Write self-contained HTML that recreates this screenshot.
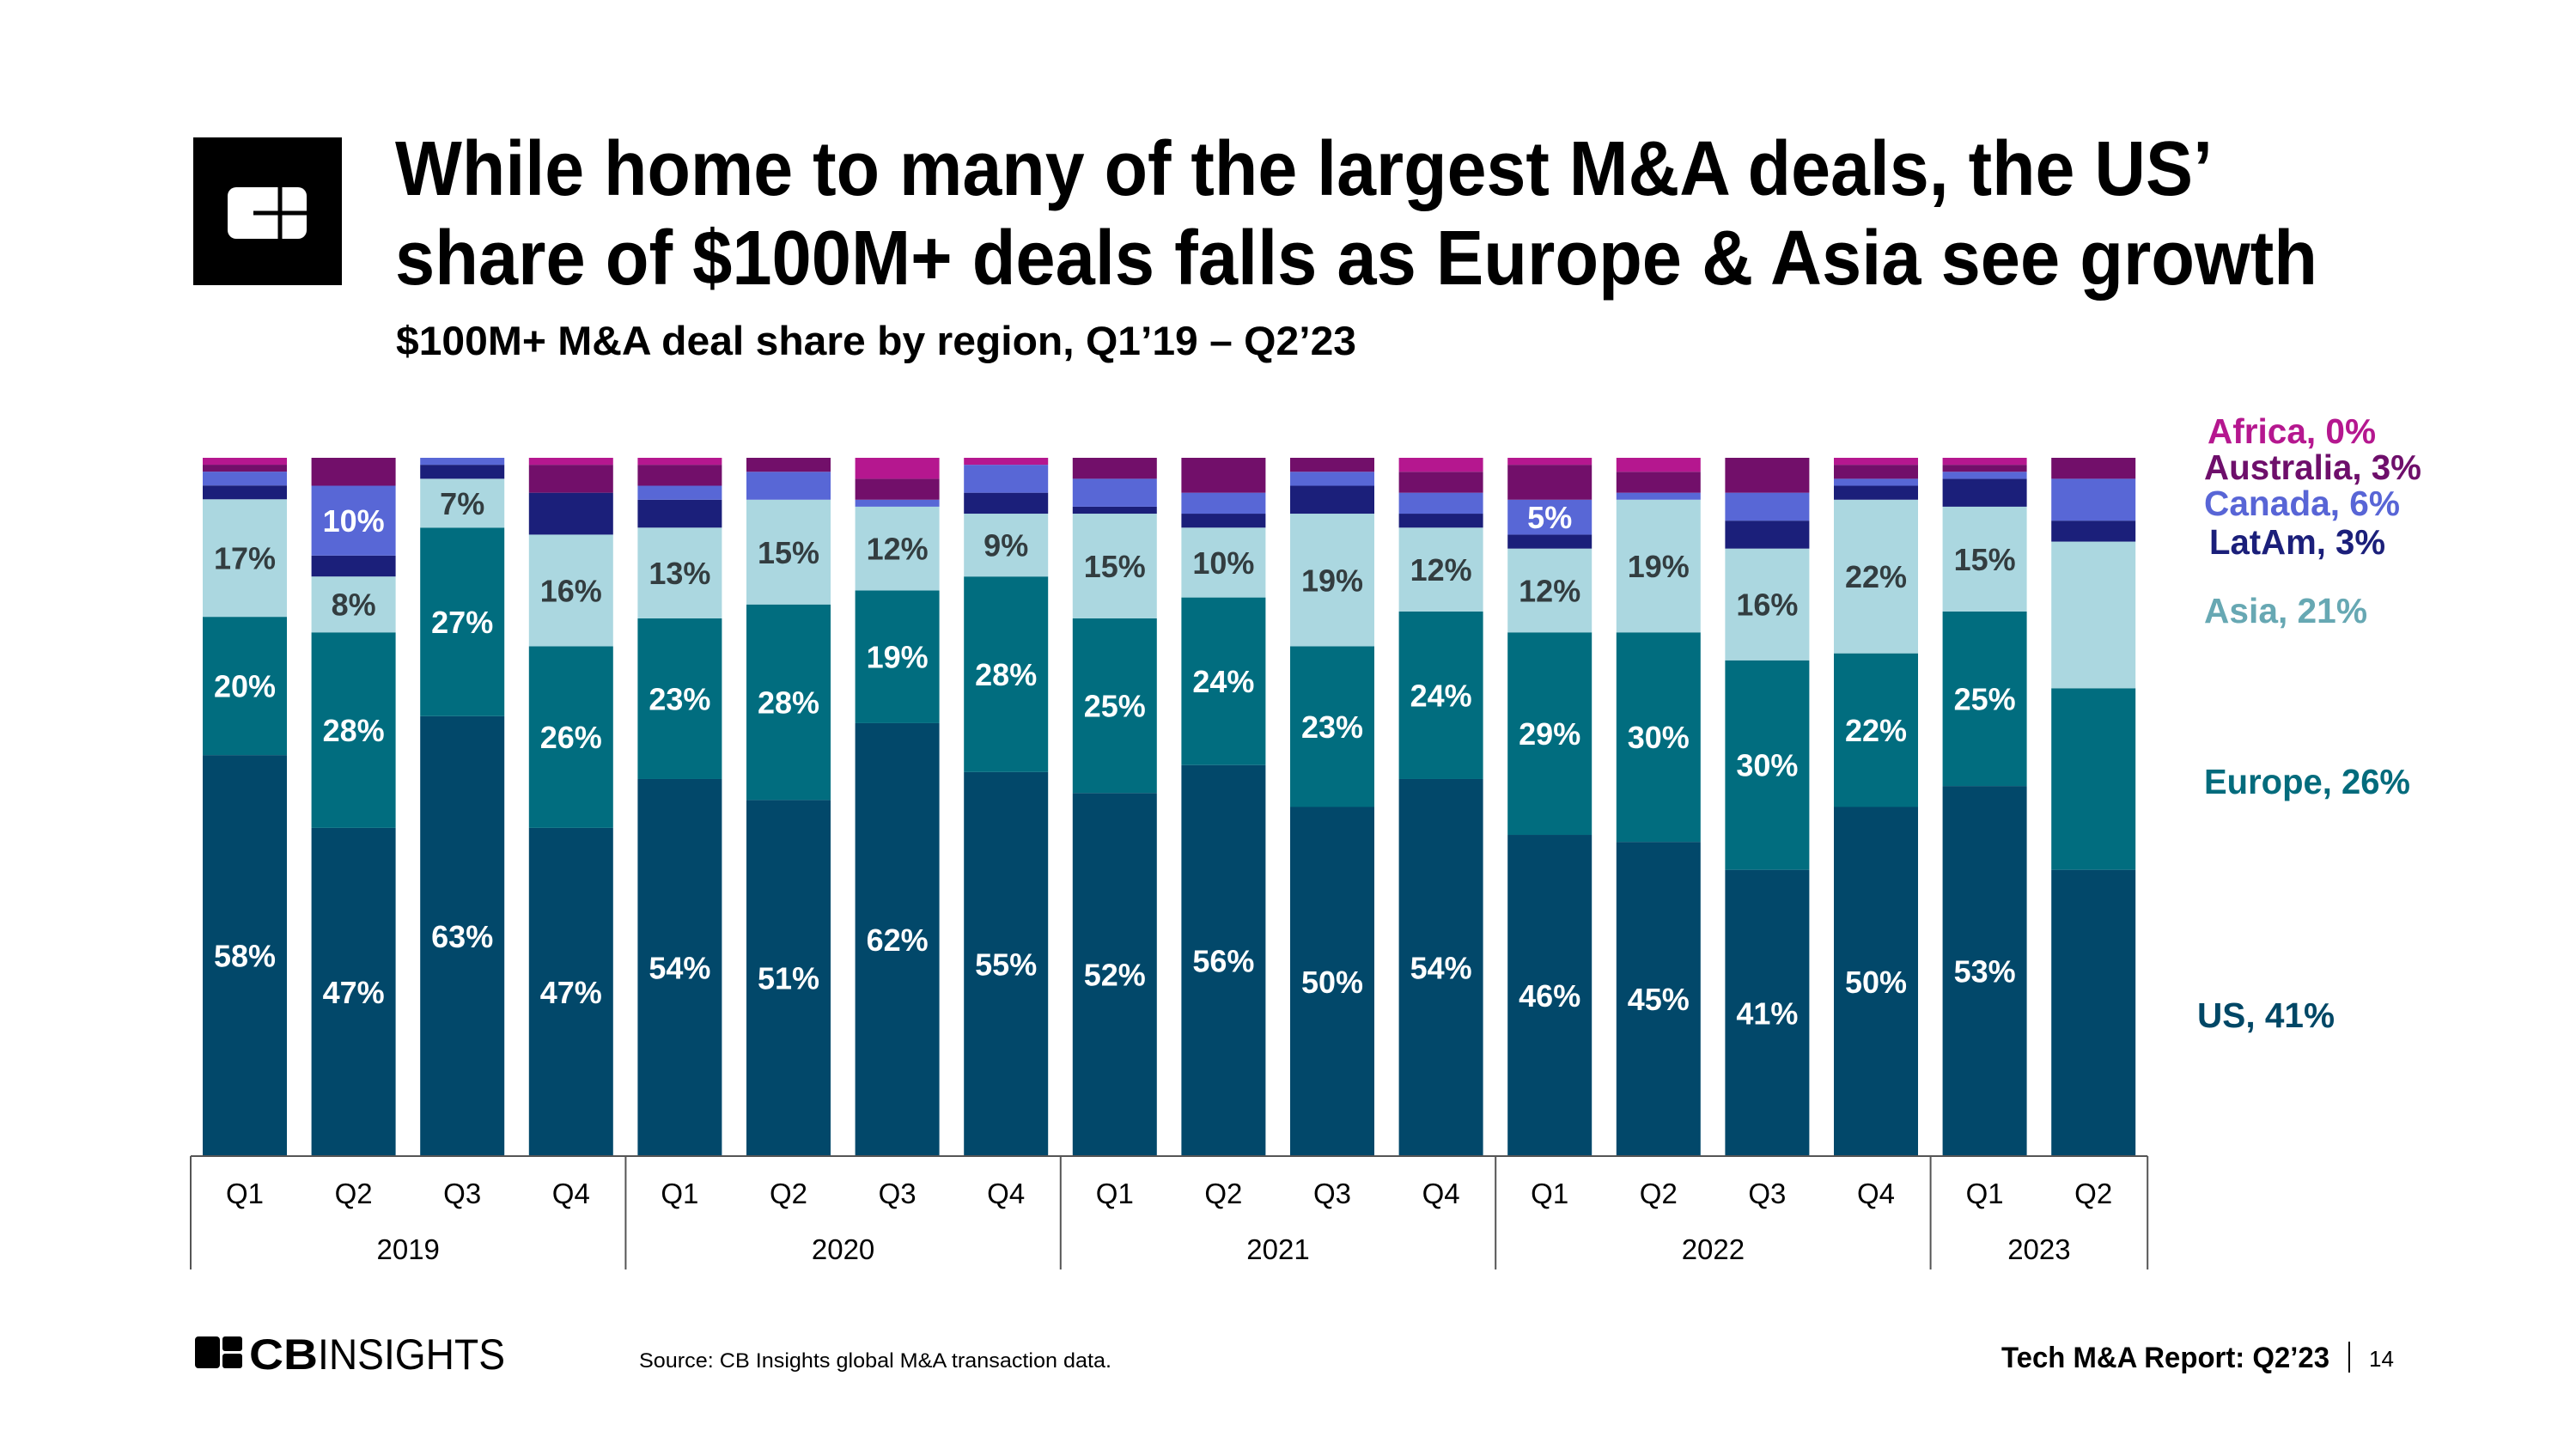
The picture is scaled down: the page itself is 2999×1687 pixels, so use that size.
<!DOCTYPE html>
<html><head><meta charset="utf-8"><style>
html,body{margin:0;padding:0;background:#fff;}
svg{display:block;font-family:"Liberation Sans",sans-serif;}
</style></head><body>
<svg id="chart" width="2999" height="1687" viewBox="0 0 2999 1687">
<g>
<rect x="225" y="160" width="173" height="172" fill="#000"/>
<rect x="265" y="218" width="92" height="60" rx="10" fill="#fff"/>
<line x1="326" y1="218" x2="326" y2="278" stroke="#000" stroke-width="5"/>
<line x1="295" y1="248" x2="357" y2="248" stroke="#000" stroke-width="5"/>
<text x="460" y="227" font-size="90" font-weight="bold" textLength="2116" lengthAdjust="spacingAndGlyphs">While home to many of the largest M&amp;A deals, the US’</text>
<text x="460" y="331" font-size="90" font-weight="bold" textLength="2238" lengthAdjust="spacingAndGlyphs">share of $100M+ deals falls as Europe &amp; Asia see growth</text>
<text x="461" y="413" font-size="47" font-weight="bold" textLength="1118" lengthAdjust="spacingAndGlyphs">$100M+ M&amp;A deal share by region, Q1’19 – Q2’23</text>
</g>
<g id="bars"></g>
<g id="axis"></g>
<g id="legend"></g>
<g>
<rect x="227" y="1556" width="29" height="37" rx="4" fill="#000"/>
<rect x="259" y="1556" width="23" height="17" rx="3" fill="#000"/>
<rect x="259" y="1576" width="23" height="17" rx="3" fill="#000"/>
<text x="290" y="1594" font-size="50" font-weight="bold" textLength="80" lengthAdjust="spacingAndGlyphs">CB</text>
<text x="370" y="1594" font-size="50" textLength="218" lengthAdjust="spacingAndGlyphs">INSIGHTS</text>
<text x="744" y="1592" font-size="24" textLength="550" lengthAdjust="spacingAndGlyphs">Source: CB Insights global M&amp;A transaction data.</text>
<text x="2712" y="1592" font-size="34" font-weight="bold" text-anchor="end" textLength="382" lengthAdjust="spacingAndGlyphs">Tech M&amp;A Report: Q2’23</text>
<line x1="2735" y1="1562" x2="2735" y2="1598" stroke="#000" stroke-width="2"/>
<text x="2758" y="1591" font-size="26">14</text>
</g>
</svg>
<script>
const categories=["Q1","Q2","Q3","Q4","Q1","Q2","Q3","Q4","Q1","Q2","Q3","Q4","Q1","Q2","Q3","Q4","Q1","Q2"];
const years=["2019","2020","2021","2022","2023"];
const yearCounts=[4,4,4,4,2];
const us=[58,47,63,47,54,51,62,55,52,56,50,54,46,45,41,50,53,41];
const europe=[20,28,27,26,23,28,19,28,25,24,23,24,29,30,30,22,25,26];
const asia=[17,8,7,16,13,15,12,9,15,10,19,12,12,19,16,22,15,21];
const latam=[2,3,2,6,4,0,0,3,1,2,4,2,2,0,4,2,4,3];
const canada=[2,10,1,0,2,4,1,4,4,3,2,3,5,1,4,1,1,6];
const australia=[1,4,0,4,3,2,3,0,3,5,2,3,5,3,5,2,1,3];
const africa=[1,0,0,1,1,0,3,1,0,0,0,2,1,2,0,1,1,0];
const seriesNames=["US","Europe","Asia","LatAm","Canada","Australia","Africa"];
const NS="http://www.w3.org/2000/svg";
const series=[us,europe,asia,latam,canada,australia,africa];
const fills=["#02486a","#016d7f","#abd7e0","#1b1f7a","#5867d6","#720f6a","#b5178f"];
const legendColors=["#004766","#036b7c","#67a8b3","#1b1f7a","#5865d6","#6e0f6b","#b5178f"];
const labelColors=["#fff","#fff","#333d40",null,"#fff",null,null];
const plotTop=533,plotBottom=1346,x0=236,pitch=126.6,bw=98,axisLeft=222;
function xPos(i){return x0+i*pitch;}
function yScale(frac){return plotBottom-frac*(plotBottom-plotTop);}
const gb=document.getElementById('bars');
function mk(tag,attrs,parent){const e=document.createElementNS(NS,tag);for(const k in attrs)e.setAttribute(k,attrs[k]);parent.appendChild(e);return e;}
categories.forEach((c,i)=>{
  let total=0;series.forEach(s=>total+=s[i]);
  let cum=0;
  series.forEach((s,k)=>{
    const v=s[i];if(v<=0)return;
    const y1=yScale(cum/total),y2=yScale((cum+v)/total);
    const r=mk('rect',{x:xPos(i),y:y2,width:bw,height:y1-y2,fill:fills[k]},gb);
    
    
    const isLast=i===categories.length-1;
    const showLabel=!isLast&&(k<3||(k===4&&v>=5));
    if(showLabel){
      const t=mk('text',{x:xPos(i)+bw/2,y:(y1+y2)/2+13,'font-size':36,'font-weight':'bold','text-anchor':'middle',fill:labelColors[k]},gb);
      t.textContent=v+'%';
      
      
    }
    cum+=v;
  });
});
const ga=document.getElementById('axis');
const axisRight=xPos(categories.length-1)+bw+14;
const al=mk('line',{x1:axisLeft,y1:plotBottom,x2:axisRight,y2:plotBottom,stroke:'#555',"stroke-width":2},ga);


categories.forEach((c,i)=>{
  const t=mk('text',{x:xPos(i)+bw/2,y:1401,'font-size':33,'text-anchor':'middle',fill:'#000'},ga);
  t.textContent=c;
  
  
});
let idx=0;
years.forEach((yr,j)=>{
  const left=j===0?axisLeft:xPos(idx)-14;
  const endIdx=idx+yearCounts[j];
  const right=endIdx>=categories.length?axisRight:xPos(endIdx)-14;
  const l=mk('line',{x1:left,y1:plotBottom,x2:left,y2:1478,stroke:'#555','stroke-width':2},ga);
  
  
  if(endIdx>=categories.length){const l2=mk('line',{x1:right,y1:plotBottom,x2:right,y2:1478,stroke:'#555','stroke-width':2},ga);
  
  }
  const t=mk('text',{x:(left+right)/2,y:1466,'font-size':33,'text-anchor':'middle',fill:'#000'},ga);
  t.textContent=yr;
  
  
  idx=endIdx;
});
const gl=document.getElementById('legend');
const legendY=[1196,924,725,645,600,558,516];
const legendX=[2558,2566,2566,2572,2566,2566,2570];
const legendW=[160,240,190,205,228,253,196];
series.forEach((s,k)=>{
  const t=mk('text',{x:legendX[k],y:legendY[k],'font-size':41,'font-weight':'bold',fill:legendColors[k],textLength:legendW[k],lengthAdjust:'spacingAndGlyphs'},gl);
  t.textContent=seriesNames[k]+', '+s[s.length-1]+'%';
  
  
});
</script>
</body></html>
